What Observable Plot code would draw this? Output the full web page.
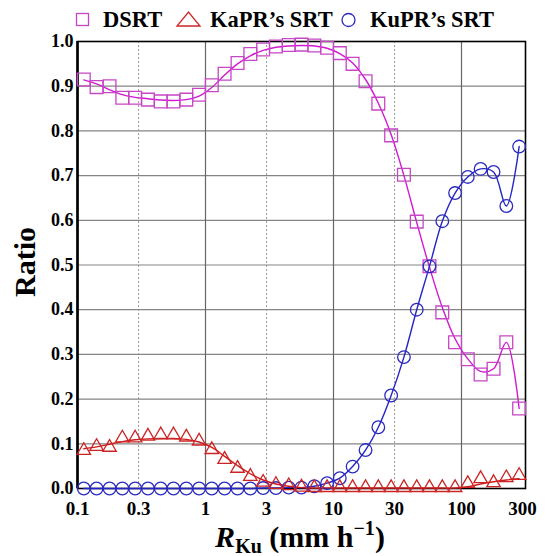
<!DOCTYPE html>
<html><head><meta charset="utf-8">
<script src="https://cdn.jsdelivr.net/npm/d3@7"></script>
<script src="https://cdn.jsdelivr.net/npm/@observablehq/plot@0.6"></script>
<style>
body{margin:0;background:#fff;font-family:"Liberation Serif",serif;font-weight:bold}
#legend,#chart{display:block}
#legend svg{display:block;overflow:visible}
</style>
</head><body>
<div id="legend"></div>
<div id="chart"></div>
<script>
// R_Ku bin centres (mm/h)
const rKu = [0.112,0.141,0.178,0.224,0.282,0.355,0.447,0.562,0.708,0.891,
             1.12,1.41,1.78,2.24,2.82,3.55,4.47,5.62,7.08,8.91,
             11.2,14.1,17.8,22.4,28.2,35.5,44.7,56.2,70.8,89.1,
             112,141,178,224,282];
// DSRT ratio (markers) and fitted line
const dsrt = [0.915,0.898,0.900,0.874,0.874,0.870,0.866,0.866,0.870,0.881,
              0.902,0.928,0.952,0.972,0.982,0.989,0.992,0.993,0.991,0.986,
              0.974,0.950,0.911,0.861,0.790,0.702,0.597,0.497,0.394,0.327,
              0.289,0.255,0.268,0.327,0.179];
const dsrtFit = [0.914,0.905,0.892,0.881,0.875,0.872,0.869,0.868,0.870,0.878,
                 0.897,0.925,0.950,0.968,0.980,0.987,0.990,0.991,0.990,0.985,
                 0.973,0.952,0.915,0.862,0.792,0.700,0.595,0.495,0.405,0.335,
                 0.290,0.262,0.268,0.327,0.179];
// KaPR's SRT ratio (markers) and fitted line
const kapr = [0.085,0.094,0.092,0.113,0.113,0.117,0.120,0.120,0.115,0.106,
              0.087,0.065,0.045,0.027,0.014,0.009,0.006,0.003,0.002,0.002,
              0.002,0.002,0.002,0.002,0.002,0.002,0.002,0.002,0.002,0.002,
              0.011,0.022,0.013,0.024,0.029];
const kaprFit = [0.089,0.093,0.099,0.105,0.109,0.111,0.112,0.112,0.110,0.104,
                 0.092,0.072,0.051,0.033,0.019,0.010,0.005,0.002,0.001,0.001,
                 0.001,0.001,0.001,0.001,0.001,0.001,0.001,0.001,0.001,0.001,
                 0.004,0.010,0.015,0.019,0.022];
// KuPR's SRT ratio
const kupr = [0.000,0.000,0.000,0.000,0.000,0.000,0.000,0.000,0.000,0.000,
              0.000,0.000,0.000,0.000,0.001,0.001,0.002,0.002,0.005,0.012,
              0.023,0.049,0.086,0.137,0.208,0.294,0.400,0.497,0.598,0.661,
              0.697,0.715,0.708,0.632,0.765];

const xTicks = [0.1,0.3,1,3,10,30,100,300];
const xTickLabels = ["0.1","0.3","1","3","10","30","100","300"];
const xMajor = [1,10,100];
const xMinor = [0.3,3,30];
const yTicks = [0,0.1,0.2,0.3,0.4,0.5,0.6,0.7,0.8,0.9,1.0];
const seriesNames = ["DSRT","KaPR\u2019s SRT","KuPR\u2019s SRT"];
const colors = {dsrt:"#c646c6", dsrtLine:"#d21ad2", kapr:"#cc2424", kaprLine:"#d01c1c", kupr:"#2a2ac0", kuprLine:"#2424c8"};

const rows = rKu.map((r,i)=>({r, dsrt:dsrt[i], dsrtFit:dsrtFit[i], kapr:kapr[i], kaprFit:kaprFit[i], kupr:kupr[i]}));

// Legend
const lg = d3.select("#legend").append("svg").attr("width",549).attr("height",34)
  .style("font-family",'"Liberation Serif", serif').style("font-weight","bold").style("font-size","22.5px");
lg.append("rect").attr("x",76.5).attr("y",13.5).attr("width",12).attr("height",12)
  .attr("fill","none").attr("stroke",colors.dsrt).attr("stroke-width",1.3);
lg.append("text").attr("x",103).attr("y",27).text(seriesNames[0]);
lg.append("path").attr("d","M177,26L200,26L188.5,12Z").attr("fill","none").attr("stroke",colors.kapr).attr("stroke-width",1.3);
lg.append("text").attr("x",210).attr("y",27).text(seriesNames[1]);
lg.append("circle").attr("cx",348.5).attr("cy",20).attr("r",6.5).attr("fill","none").attr("stroke",colors.kupr).attr("stroke-width",1.3);
lg.append("text").attr("x",370).attr("y",27).text(seriesNames[2]);

const chart = Plot.plot({
  width: 549, height: 522,
  marginTop: 7, marginBottom: 68, marginLeft: 77, marginRight: 24,
  style: {fontFamily: '"Liberation Serif", serif', fontWeight: "bold", fontSize: "18px", background: "white", color: "black", overflow: "visible"},
  x: {type: "log", domain: [0.1, 316.23]},
  y: {domain: [0, 1]},
  marks: [
    Plot.ruleY(yTicks, {stroke: "#858585", strokeWidth: 1.2}),
    Plot.ruleX(xMajor, {stroke: "#666", strokeWidth: 1.2}),
    Plot.ruleX(xMinor, {stroke: "#999", strokeWidth: 1, strokeDasharray: "2,2"}),
    Plot.frame({stroke: "black", strokeWidth: 1.6}),
    Plot.ruleX([0.1], {stroke: "black", strokeWidth: 2.6}),
    Plot.axisY({ticks: yTicks, tickSize: 0, tickPadding: 4, tickFormat: d3.format(".1f"), fontSize: 18, label: null}),
    Plot.axisX({ticks: xTicks, tickSize: 0, tickPadding: 13, tickFormat: (d) => xTickLabels[xTicks.indexOf(d)], fontSize: 19, label: null}),
    Plot.line(rows, {x: "r", y: "dsrtFit", stroke: colors.dsrtLine, strokeWidth: 1.4, curve: "catmull-rom"}),
    Plot.line(rows, {x: "r", y: "kupr", stroke: colors.kuprLine, strokeWidth: 1.4, curve: "catmull-rom"}),
    Plot.line(rows, {x: "r", y: "kaprFit", stroke: colors.kaprLine, strokeWidth: 1.4, curve: "catmull-rom"}),
    Plot.dot(rows, {x: "r", y: "dsrt", symbol: "square", r: 7.2, stroke: colors.dsrt, fill: "none", strokeWidth: 1.3}),
    Plot.dot(rows, {x: "r", y: "kupr", symbol: "circle", r: 6.3, stroke: colors.kupr, fill: "none", strokeWidth: 1.3}),
    Plot.dot(rows, {x: "r", y: "kapr", symbol: "triangle", r: 5.0, stroke: colors.kapr, fill: "none", strokeWidth: 1.3})
  ]
});
document.getElementById("chart").appendChild(chart);

const svg = d3.select(chart);
svg.append("text").attr("transform","translate(35,228) rotate(-90)")
  .attr("text-anchor","middle").style("font-size","30px").style("font-weight","bold")
  .attr("fill","black").text("Ratio");
const xl = svg.append("text").attr("x",300).attr("y",513).attr("text-anchor","middle")
  .style("font-size","30px").style("font-weight","bold").attr("fill","black");
xl.append("tspan").style("font-style","italic").text("R");
xl.append("tspan").attr("dy",6).style("font-size","20px").text("Ku");
xl.append("tspan").attr("dy",-6).text(" (mm h");
xl.append("tspan").attr("dy",-12).style("font-size","20px").text("\u22121");
xl.append("tspan").attr("dy",12).text(")");
</script>
</body></html>
